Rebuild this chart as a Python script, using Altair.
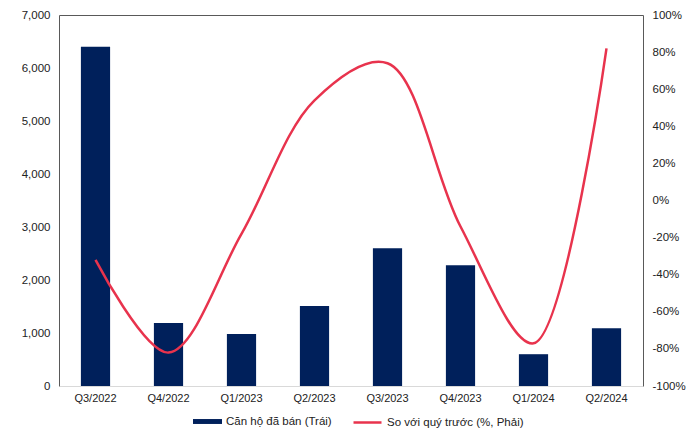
import altair as alt
import pandas as pd

quarters = ["Q3/2022", "Q4/2022", "Q1/2023", "Q2/2023", "Q3/2023", "Q4/2023", "Q1/2024", "Q2/2024"]
units_sold = [6400, 1190, 980, 1510, 2600, 2280, 600, 1090]
qoq_pct = [-32, -82, -18, 54, 74, -14, -77, 82]

bar_name = "Căn hộ đã bán (Trái)"
line_name = "So với quý trước (%, Phải)"

df = pd.DataFrame({
    "q": quarters,
    "units": units_sold,
    "pct": qoq_pct,
    "bar_s": [bar_name] * len(quarters),
    "line_s": [line_name] * len(quarters),
})

FONT = "Liberation Sans"
NAVY = "#00205B"
RED = "#E8334D"

x = alt.X("q:N", sort=quarters, title=None,
          scale=alt.Scale(paddingInner=0.6, paddingOuter=0.3),
          axis=alt.Axis(labelAngle=0, ticks=False, domainColor="#d9d9d9",
                        labelFontSize=11, labelColor="#222222", labelPadding=6))

bars = alt.Chart(df).mark_bar(color=NAVY).encode(
    x=x,
    y=alt.Y("units:Q", title=None,
            scale=alt.Scale(domain=[0, 7000], nice=False),
            axis=alt.Axis(values=list(range(0, 7001, 1000)), format=",.0f", ticks=False,
                          domain=False, grid=False, labelFontSize=11.5,
                          labelColor="#222222", labelPadding=9)),
    color=alt.Color("bar_s:N", title=None,
                    scale=alt.Scale(domain=[bar_name], range=[NAVY]),
                    legend=alt.Legend(symbolType="M-1,-0.17H1V0.17H-1Z", symbolSize=841,
                                      symbolStrokeWidth=0, orient="none",
                                      legendX=134, legendY=392)),
)

line = alt.Chart(df).mark_line(strokeWidth=2.5, interpolate="catmull-rom").encode(
    x=x,
    y=alt.Y("pct:Q", title=None,
            scale=alt.Scale(domain=[-100, 100], nice=False),
            axis=alt.Axis(orient="right", values=list(range(-100, 101, 20)),
                          labelExpr="datum.value + '%'", ticks=False, domain=False,
                          grid=False, labelFontSize=11.5, labelColor="#222222",
                          labelPadding=9)),
    stroke=alt.Stroke("line_s:N", title=None,
                      scale=alt.Scale(domain=[line_name], range=[RED]),
                      legend=alt.Legend(symbolType="stroke", symbolSize=784,
                                        symbolStrokeWidth=2.5, orient="none",
                                        legendX=293, legendY=392)),
)

chart = alt.layer(bars, line).resolve_scale(
    y="independent", color="independent", stroke="independent"
).properties(
    width=584, height=371,
    autosize=alt.AutoSizeParams(type="none"),
    padding={"left": 59, "top": 15, "right": 54, "bottom": 51},
).configure_view(
    stroke="#595959", strokeWidth=1
).configure_axis(
    labelFont=FONT
).configure_legend(
    labelFont=FONT, labelFontSize=11.5, labelColor="#222222",
    labelOffset=4, padding=0
)

chart.save("out.html", embed_options={"renderer": "svg", "actions": False})
